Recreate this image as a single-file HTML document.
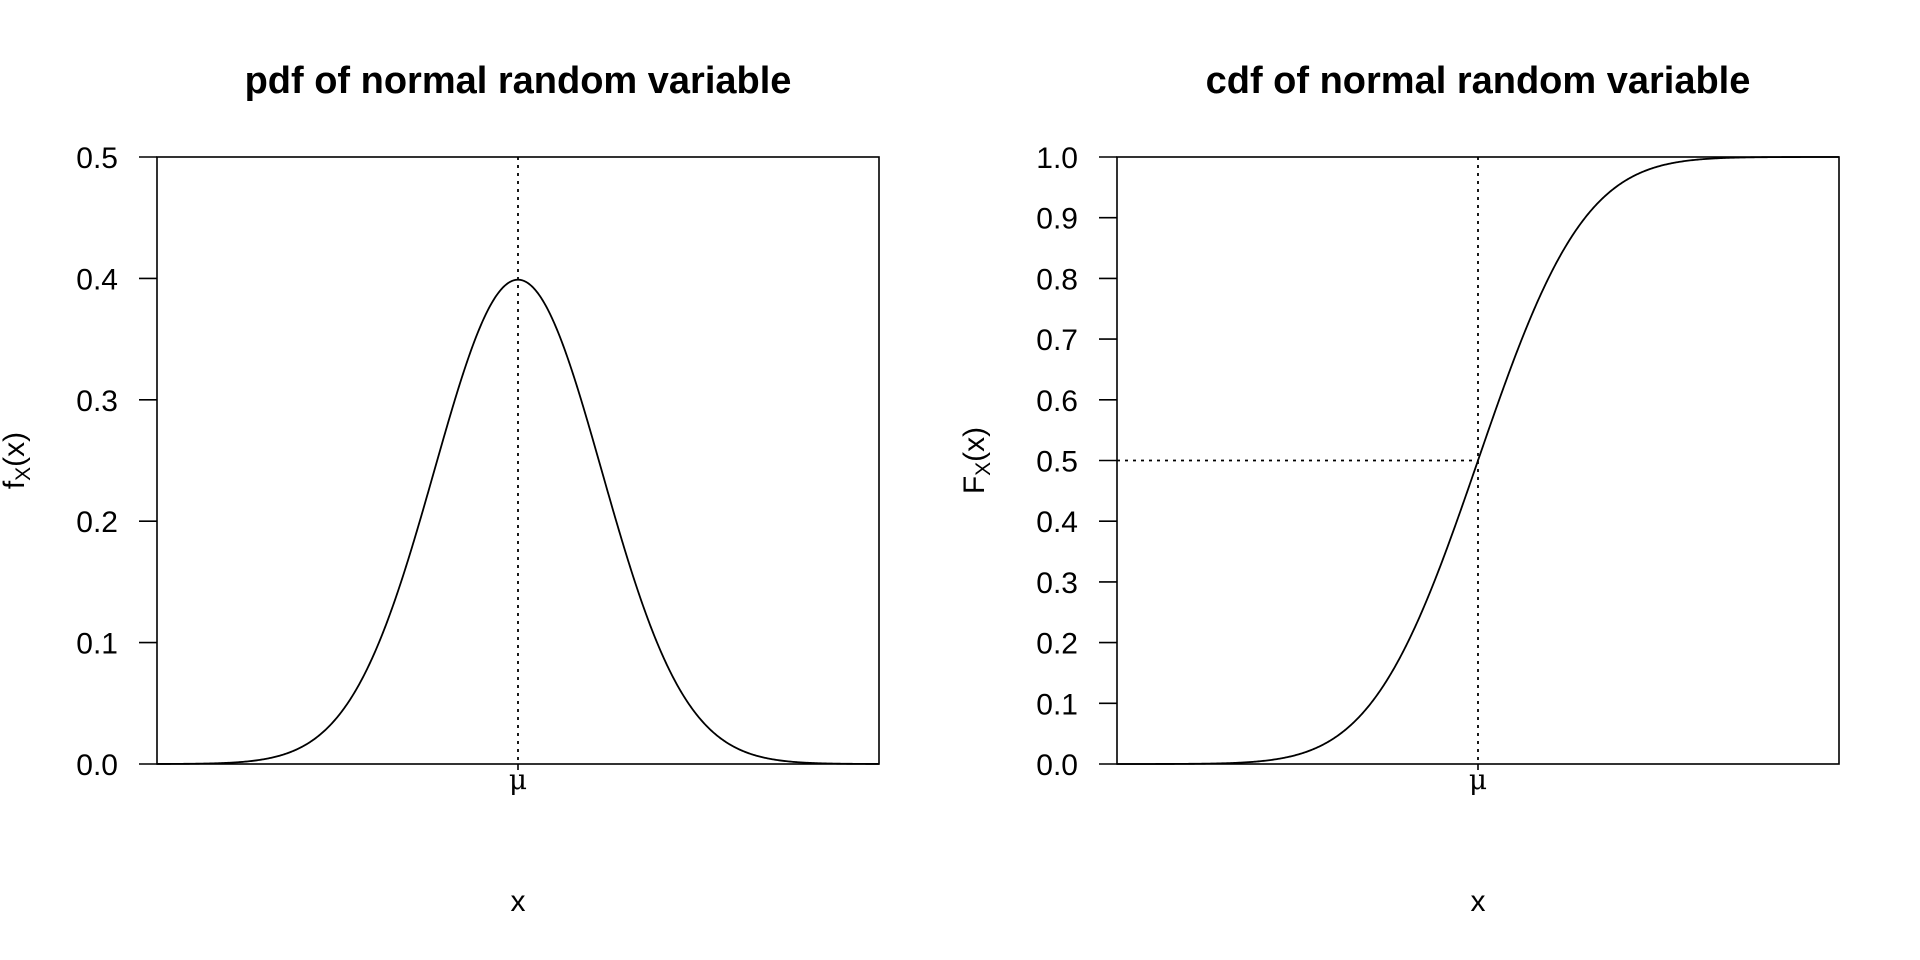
<!DOCTYPE html>
<html><head><meta charset="utf-8"><style>html,body{margin:0;padding:0;background:#fff}svg{display:block}</style></head>
<body>
<svg id="s" width="1920" height="960" xmlns="http://www.w3.org/2000/svg" font-family="Liberation Sans, Arial, sans-serif">
</svg>
<script>
(function(){
const s=document.getElementById('s');
let h='';
const T0=157,B0=764,H=B0-T0;
function erf(x){const t=1/(1+0.3275911*Math.abs(x));const y=1-(((((1.061405429*t-1.453152027)*t)+1.421413741)*t-0.284496736)*t+0.254829592)*t*Math.exp(-x*x);return x>=0?y:-y;}
function panel(L,R,title,ymax,step,ylab,cdf){
  const mu=(L+R)/2, sd=83.6;
  h+=`<rect x="${L}" y="${T0}" width="${R-L}" height="${H}" fill="none" stroke="#000" stroke-width="1.6"/>`;
  h+=`<text x="${mu}" y="93" font-size="38" font-weight="bold" text-anchor="middle">${title}</text>`;
  const n=Math.round(ymax/step);
  for(let i=0;i<=n;i++){const v=i*step;const y=B0-v/ymax*H;
    h+=`<line x1="${L-18}" y1="${y}" x2="${L}" y2="${y}" stroke="#000" stroke-width="1.6"/>`;
    h+=`<text x="${L-39}" y="${y+11}" font-size="30" text-anchor="end">${v.toFixed(1)}</text>`;}
  let d='';
  for(let px=L;px<=R;px+=1){const z=(px-mu)/sd;const v=cdf?0.5*(1+erf(z/Math.SQRT2)):Math.exp(-z*z/2)/Math.sqrt(2*Math.PI);
    d+=(px==L?'M':'L')+px+','+(B0-v/ymax*H).toFixed(2);}
  h+=`<path d="${d}" fill="none" stroke="#000" stroke-width="1.8"/>`;
  h+=`<line x1="${mu}" y1="${T0}" x2="${mu}" y2="${B0}" stroke="#000" stroke-width="1.8" stroke-dasharray="3,5"/>`;
  if(cdf){const y=B0-0.5/ymax*H;h+=`<line x1="${L}" y1="${y}" x2="${mu}" y2="${y}" stroke="#000" stroke-width="1.8" stroke-dasharray="3,5"/>`;}
  h+=`<line x1="${mu}" y1="${B0}" x2="${mu}" y2="${B0+6}" stroke="#000" stroke-width="1.6"/>`;
  h+=`<text x="${mu}" y="789" font-size="28" font-family="DejaVu Serif, Liberation Serif, serif" text-anchor="middle">μ</text>`;
  h+=`<text x="${mu}" y="911" font-size="30" text-anchor="middle">x</text>`;
  const lx=L-133, cy=(T0+B0)/2;
  h+=`<text transform="translate(${lx},${cy}) rotate(-90)" font-size="30" text-anchor="middle">${ylab}<tspan font-size="21" dy="6">X</tspan><tspan dy="-6">(x)</tspan></text>`;
}
panel(157,879,'pdf of normal random variable',0.5,0.1,'f',false);
panel(1117,1839,'cdf of normal random variable',1.0,0.1,'F',true);
s.innerHTML=h;
})();
</script>
</body></html>
